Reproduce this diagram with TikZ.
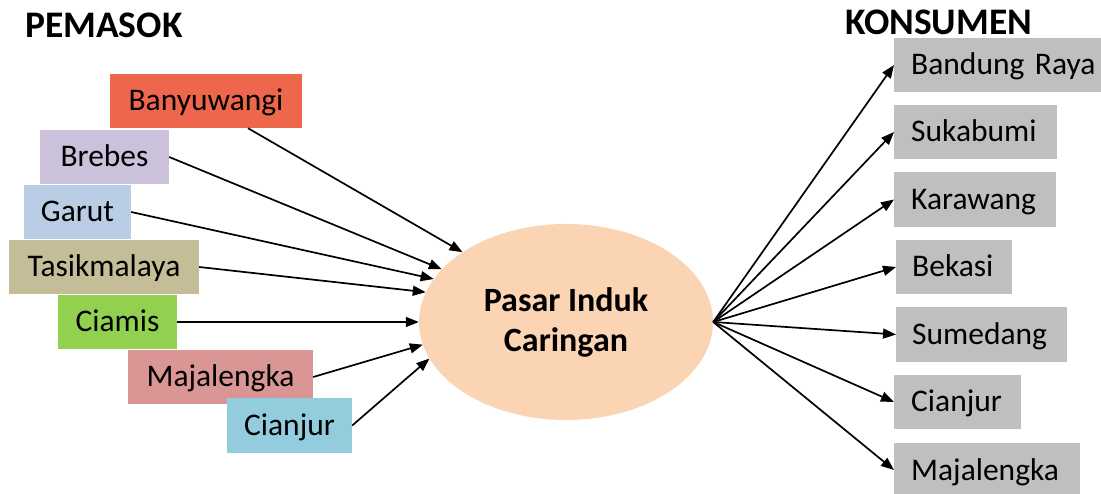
\documentclass[tikz,border=0pt]{standalone}
\usepackage{fontspec}
\setmainfont{Carlito}
\usetikzlibrary{arrows.meta,shapes.geometric}
\definecolor{cBanyu}{RGB}{238,102,76}
\definecolor{cBrebes}{RGB}{204,193,218}
\definecolor{cGarut}{RGB}{185,205,229}
\definecolor{cTasik}{RGB}{196,189,151}
\definecolor{cCiamis}{RGB}{146,208,80}
\definecolor{cMaja}{RGB}{217,150,148}
\definecolor{cCianjur}{RGB}{147,205,221}
\definecolor{cGray}{RGB}{191,191,191}
\definecolor{cPeach}{RGB}{251,212,180}
\begin{document}
\begin{tikzpicture}[x=1pt,y=-1pt,
  boxtext/.style={inner sep=0pt, text height=23pt, text depth=3pt, font=\fontsize{31.5}{37}\selectfont},
  lbox/.style={boxtext, minimum height=54pt},
  rbox/.style={boxtext, fill=cGray, inner xsep=17pt, minimum height=54pt, align=left, anchor=west},
  flow/.style={-{Triangle[length=13pt,width=10pt]}, line width=1.7pt},
  title/.style={anchor=base west, inner sep=0pt, font=\bfseries\fontsize{37.5}{45}\selectfont}
]
\useasboundingbox (0,0) rectangle (1101,494);

% titles
\node[title] (tpem) at (25,38) {PEMASOK};
\node[title] (tkon) at (845,35) {KONSUMEN};

% centre
\node[ellipse, fill=cPeach, minimum width=294pt, minimum height=196pt, inner sep=0pt,
      align=center, font=\bfseries\fontsize{34}{40}\selectfont] (ell) at (566,322) {Pasar Induk\\Caringan};

% suppliers
\node[lbox, fill=cBanyu, minimum width=192pt] (banyu) at (206,101) {Banyuwangi};
\node[lbox, fill=cBrebes, minimum width=129pt] (brebes) at (104.5,157) {Brebes};
\node[lbox, fill=cGarut, minimum width=107pt] (garut) at (77.5,212) {Garut};
\node[lbox, fill=cTasik, minimum width=190pt] (tasik) at (104,267) {Tasikmalaya};
\node[lbox, fill=cCiamis, minimum width=119pt] (ciamis) at (117.5,322) {Ciamis};
\node[lbox, fill=cMaja, minimum width=185pt] (maja) at (220.5,377) {Majalengka};
\node[lbox, fill=cCianjur, minimum width=125pt, minimum height=55pt] (cianjur) at (289.5,425.5) {Cianjur};

% consumers
\node[rbox, text width=200pt] (bandung) at (894,65) {Bandung Raya};
\node[rbox, text width=129pt] (sukabumi) at (894,132) {Sukabumi};
\node[rbox, text width=128pt, minimum height=55pt] (karawang) at (894,199.5) {Karawang};
\node[rbox, inner xsep=16pt, text width=84pt] (bekasi) at (896,267) {Bekasi};
\node[rbox, inner xsep=16pt, text width=139pt, minimum height=55pt] (sumedang) at (896,334.5) {Sumedang};
\node[rbox, text width=93pt] (rcianjur) at (894,402) {Cianjur};
\node[rbox, text width=152pt] (rmaja) at (894,470) {Majalengka};

% inflows
\draw[flow] ([xshift=42pt]banyu.south) -- (ell.146);
\draw[flow] (brebes.east) -- (ell.157);
\draw[flow] (garut.east) -- (ell.162);
\draw[flow] (tasik.east) -- (ell.168);
\draw[flow] (ciamis.east) -- (ell.180);
\draw[flow] (maja.east) -- (ell.189);
\draw[flow] (cianjur.east) -- (ell.195);

% outflows
\draw[flow] (ell.east) -- (bandung.west);
\draw[flow] (ell.east) -- (sukabumi.west);
\draw[flow] (ell.east) -- (karawang.west);
\draw[flow] (ell.east) -- (bekasi.west);
\draw[flow] (ell.east) -- (sumedang.west);
\draw[flow] (ell.east) -- (rcianjur.west);
\draw[flow] (ell.east) -- (rmaja.west);
\end{tikzpicture}
\end{document}
